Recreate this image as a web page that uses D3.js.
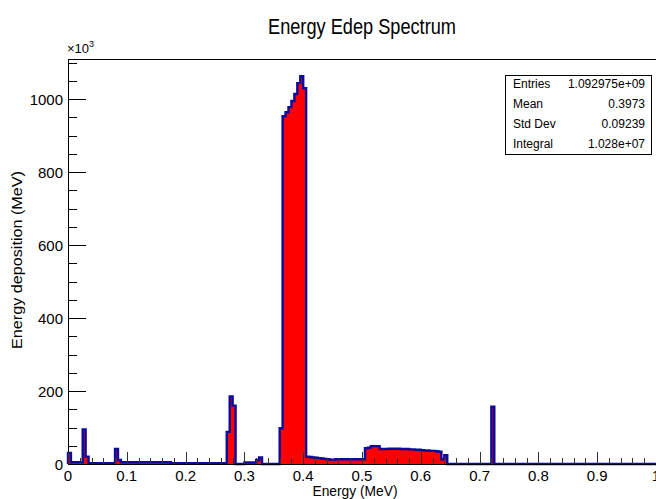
<!DOCTYPE html>
<html><head><meta charset="utf-8">
<script src="https://cdn.jsdelivr.net/npm/d3@7"></script>
<style>
html,body{margin:0;padding:0;background:#fff;overflow:hidden;}
svg{display:block;font-family:"Liberation Sans",Arial,Helvetica,sans-serif;}
</style></head>
<body><svg id="c" width="656" height="499"></svg>
<script>
// Histogram: 200 bins between 0 and 1 MeV; values in units of 10^3 MeV
const binRange = [0, 1];
const binCount = 200;
const binValues = [
  30, 5, 5, 5, 5, 95, 20, 2, 2, 2,            // 0.00-0.05
  2, 2, 2, 2, 2, 2, 41, 11, 5, 5,             // 0.05-0.10
  5, 5, 5, 5, 5, 5, 5, 5, 5, 5,               // 0.10-0.15
  5, 5, 5, 5, 5, 2, 2, 2, 2, 2,               // 0.15-0.20
  2, 2, 2, 2, 2, 2, 2, 2, 2, 2,               // 0.20-0.25
  2, 2, 2, 2, 88, 185, 160, 0, 0, 0,          // 0.25-0.30
  4, 4, 4, 4, 11, 18, 0, 0, 0, 0,             // 0.30-0.35
  0, 0, 98, 953, 964, 978, 995, 1014, 1044, 1063, // 0.35-0.40
  1030, 20, 19, 18, 17, 16, 15, 14, 13, 12,   // 0.40-0.45
  12, 13, 13, 13, 13, 13, 13, 13, 13, 13,     // 0.45-0.50
  13, 43, 45, 49, 49, 49, 41, 41, 41, 42,     // 0.50-0.55
  42, 42, 42, 41, 41, 41, 40, 40, 39, 39,     // 0.55-0.60
  38, 37, 37, 36, 36, 35, 34, 13, 24, 0,      // 0.60-0.65
  0, 0, 0, 0, 0, 0, 0, 0, 0, 0,               // 0.65-0.70
  0, 0, 0, 0, 157, 0, 0, 0, 0, 0,             // 0.70-0.75
  0, 0, 0, 0, 0, 0, 0, 0, 0, 0,               // 0.75-0.80
  0, 0, 0, 0, 0, 0, 0, 0, 0, 0,               // 0.80-0.85
  0, 0, 0, 0, 0, 0, 0, 0, 0, 0,               // 0.85-0.90
  0, 0, 0, 0, 0, 0, 0, 0, 0, 0,               // 0.90-0.95
  0, 0, 0, 0, 0, 0, 0, 0, 0, 0                // 0.95-1.00
];
const xTickValues = [0, 0.1, 0.2, 0.3, 0.4, 0.5, 0.6, 0.7, 0.8, 0.9, 1];
const xTickLabels = ["0", "0.1", "0.2", "0.3", "0.4", "0.5", "0.6", "0.7", "0.8", "0.9", "1"];
const yTickValues = [0, 200, 400, 600, 800, 1000];
const yTickLabels = ["0", "200", "400", "600", "800", "1000"];
const yDomainMax = 1110;
const statNames = ["Entries", "Mean", "Std Dev", "Integral"];
const statValues = ["1.092975e+09", "0.3973", "0.09239", "1.028e+07"];
const titleText = "Energy Edep Spectrum";
const xTitle = "Energy (MeV)";
const yTitle = "Energy deposition (MeV)";

const svg = d3.select("#c");
const L = 68, R = 656, T = 59, B = 464;
const x = d3.scaleLinear().domain(binRange).range([L, R]);
const y = d3.scaleLinear().domain([0, yDomainMax]).range([B, T]);
const bw = (binRange[1] - binRange[0]) / binCount;

// step path
let d = `M${x(binRange[0])},${y(0)}`;
binValues.forEach((v, i) => {
  const x1 = binRange[0] + (i + 1) * bw;
  d += `V${y(v)}H${x(x1)}`;
});
d += `V${y(0)}`;
svg.append("path").attr("d", d + "Z").attr("fill", "#ff0000").attr("stroke", "none");
svg.append("path").attr("d", d).attr("fill", "none").attr("stroke", "#0a0a9c")
  .attr("stroke-width", 2.4).attr("stroke-linejoin", "miter");

// frame
svg.append("line").attr("x1", L).attr("x2", R).attr("y1", T + 0.5).attr("y2", T + 0.5).attr("stroke", "#000");
svg.append("line").attr("x1", L + 0.5).attr("x2", L + 0.5).attr("y1", T).attr("y2", B).attr("stroke", "#000");
svg.append("line").attr("x1", L).attr("x2", R).attr("y1", B + 0.5).attr("y2", B + 0.5).attr("stroke", "#000");

// x axis ticks
const xMinor = d3.range(0, 51).map(k => k / 50);
svg.append("g").selectAll("line").data(xMinor).join("line")
  .attr("x1", v => Math.round(x(v)) + 0.5).attr("x2", v => Math.round(x(v)) + 0.5)
  .attr("y1", B).attr("y2", (v, i) => i % 5 === 0 ? B - 12 : B - 6)
  .attr("stroke", "#333").attr("stroke-width", 1);
svg.append("g").selectAll("text").data(xTickValues).join("text")
  .attr("x", v => x(v)).attr("y", 481).attr("text-anchor", "middle")
  .attr("font-size", 15).text((v, i) => xTickLabels[i]);

// y axis ticks
const yMinor = d3.range(0, 23).map(k => k * 50);
svg.append("g").selectAll("line").data(yMinor.filter(v => v <= yDomainMax)).join("line")
  .attr("x1", L).attr("x2", v => v % 200 === 0 ? L + 18 : L + 9)
  .attr("y1", v => Math.round(y(v)) + 0.5).attr("y2", v => Math.round(y(v)) + 0.5)
  .attr("stroke", "#000").attr("stroke-width", 1);
svg.append("g").selectAll("text").data(yTickValues).join("text")
  .attr("x", 63).attr("y", v => y(v) + 6).attr("text-anchor", "end")
  .attr("font-size", 15).text((v, i) => yTickLabels[i]);

// exponent label
const ex = svg.append("text").attr("x", 67).attr("y", 53).attr("font-size", 13);
ex.append("tspan").text("\u00d710");
ex.append("tspan").attr("dy", -6).attr("font-size", 9).text("3");

// titles
svg.append("text").attr("x", 362).attr("y", 34).attr("text-anchor", "middle")
  .attr("font-size", 22).attr("textLength", 188).attr("lengthAdjust", "spacingAndGlyphs").text(titleText);
svg.append("text").attr("x", 355).attr("y", 496).attr("text-anchor", "middle")
  .attr("font-size", 14).attr("textLength", 85).attr("lengthAdjust", "spacingAndGlyphs").text(xTitle);
svg.append("text").attr("transform", "translate(22,260) rotate(-90)").attr("text-anchor", "middle")
  .attr("font-size", 15).attr("textLength", 178).attr("lengthAdjust", "spacingAndGlyphs").text(yTitle);

// stats box
const sb = {x: 505, y: 75, w: 146, h: 79};
svg.append("rect").attr("x", sb.x + 1).attr("y", sb.y + 1).attr("width", sb.w).attr("height", sb.h).attr("fill", "#000");
svg.append("rect").attr("x", sb.x + 0.5).attr("y", sb.y + 0.5).attr("width", sb.w).attr("height", sb.h)
  .attr("fill", "#fff").attr("stroke", "#000");
statNames.forEach((n, i) => {
  const yy = sb.y + 13 + i * 20;
  svg.append("text").attr("x", sb.x + 8).attr("y", yy).attr("font-size", 12).text(n);
  svg.append("text").attr("x", sb.x + sb.w - 6).attr("y", yy).attr("text-anchor", "end").attr("font-size", 12).text(statValues[i]);
});
</script></body></html>
